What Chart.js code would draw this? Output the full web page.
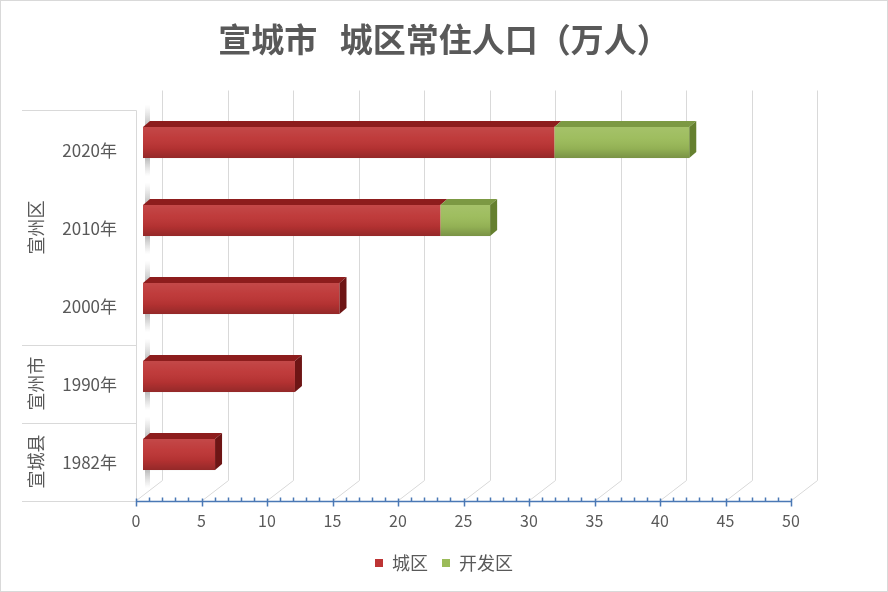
<!DOCTYPE html>
<html>
<head>
    <title>宣城市 城区常住人口</title>
    <meta charset="UTF-8">
    <script src="https://cdn.jsdelivr.net/npm/chart.js@4.4.1/dist/chart.umd.min.js"></script>
    <style>
        body { margin: 0; background: #fff; }
        .wrap { width: 888px; height: 592px; }
    </style>
</head>
<body>
    <div class="wrap"><canvas id="chart" width="888" height="592"></canvas></div>

    <script>
        // data (万人)
        const years = ['2020年', '2010年', '2000年', '1990年', '1982年'];
        const groups = ['宣州区', '宣州市', '宣城县'];
        const groupSpans = [3, 1, 1];          // how many years sit under each group
        const urban = [31.4, 22.7, 15.0, 11.6, 5.5];
        const devZone = [10.3, 3.8, 0, 0, 0];

        const FONT = '"Noto Sans CJK SC", "Noto Sans", sans-serif';
        const TEXT = '#595959';
        const GRID = '#d9d9d9';
        // fake 3D: offsets of the front plane / back wall from the bar plane
        const FRONT = { dx: -7, dy: 7 };
        const BACK = { dx: 19, dy: -13 };
        const DEPTH = { dx: 7, dy: 6 };

        const faces = [
            { top: '#8d1d1d', side: '#6e1515' },
            { top: '#7c9943', side: '#65802f' }
        ];

        const depthPlugin = {
            id: 'depth',
            beforeDatasetsDraw(chart) {
                const { ctx, chartArea: a, scales: { x, y } } = chart;
                ctx.save();

                // back wall gridlines + floor diagonals
                ctx.strokeStyle = GRID;
                ctx.lineWidth = 1;
                x.ticks.forEach(t => {
                    const px = Math.round(x.getPixelForValue(t.value)) + 0.5;
                    ctx.beginPath();
                    ctx.moveTo(px + BACK.dx, a.top + BACK.dy);
                    ctx.lineTo(px + BACK.dx, a.bottom + BACK.dy);
                    ctx.lineTo(px + FRONT.dx, a.bottom + FRONT.dy);
                    ctx.stroke();
                });

                // category label boxes
                const left = 22;
                const right = Math.round(a.left + FRONT.dx) + 0.5;
                const top = a.top + FRONT.dy;
                const bottom = a.bottom + FRONT.dy;
                ctx.beginPath();
                ctx.moveTo(right, top);
                ctx.lineTo(right, bottom);
                ctx.moveTo(left, top);
                ctx.lineTo(right, top);
                let idx = 0;
                const step = y.getPixelForValue(1) - y.getPixelForValue(0);
                groupSpans.forEach((span, g) => {
                    const first = y.getPixelForValue(idx);
                    const last = y.getPixelForValue(idx + span - 1);
                    const edge = Math.round(last + step / 2 + FRONT.dy) + 0.5;
                    ctx.moveTo(left, edge);
                    ctx.lineTo(right, edge);

                    ctx.save();
                    ctx.fillStyle = TEXT;
                    ctx.font = '18px ' + FONT;
                    ctx.textAlign = 'center';
                    ctx.textBaseline = 'middle';
                    ctx.translate(36, (first + last) / 2 + FRONT.dy);
                    ctx.rotate(-Math.PI / 2);
                    ctx.fillText(groups[g], 0, 0);
                    ctx.restore();
                    idx += span;
                });
                ctx.stroke();

                // grey smudge on the left wall above/below each bar
                chart.getDatasetMeta(0).data.forEach(bar => {
                    const p = bar.getProps(['y', 'base', 'height'], true);
                    const l = p.base, t = p.y - p.height / 2, b = p.y + p.height / 2;
                    let g = ctx.createLinearGradient(0, t - DEPTH.dy - 16, 0, t);
                    g.addColorStop(0, 'rgba(190,190,190,0)');
                    g.addColorStop(1, 'rgba(170,170,170,0.8)');
                    ctx.fillStyle = g;
                    ctx.fillRect(l + 2, t - DEPTH.dy - 16, 5, 16 + DEPTH.dy);
                    g = ctx.createLinearGradient(0, b, 0, b + 18);
                    g.addColorStop(0, 'rgba(170,170,170,0.8)');
                    g.addColorStop(1, 'rgba(190,190,190,0)');
                    ctx.fillStyle = g;
                    ctx.fillRect(l + 2, b, 5, 18);
                });

                // front value axis with major and minor ticks
                const ay = Math.round(a.bottom + FRONT.dy) + 0.5;
                ctx.strokeStyle = '#4a78b5';
                ctx.lineWidth = 1.5;
                ctx.beginPath();
                ctx.moveTo(x.getPixelForValue(x.min) + FRONT.dx, ay);
                ctx.lineTo(x.getPixelForValue(x.max) + FRONT.dx, ay);
                for (let v = x.min; v <= x.max; v++) {
                    const px = Math.round(x.getPixelForValue(v) + FRONT.dx) + 0.5;
                    if (v % 5 === 0) {
                        ctx.moveTo(px, ay - 3);
                        ctx.lineTo(px, ay + 5);
                    } else {
                        ctx.moveTo(px, ay - 4);
                        ctx.lineTo(px, ay);
                    }
                }
                ctx.stroke();
                ctx.restore();
            },
            afterDatasetsDraw(chart) {
                const { ctx } = chart;
                const sets = chart.data.datasets;
                ctx.save();
                sets.forEach((ds, d) => {
                    chart.getDatasetMeta(d).data.forEach((bar, j) => {
                        if (!ds.data[j]) return;
                        const p = bar.getProps(['x', 'y', 'base', 'height'], true);
                        const l = Math.min(p.base, p.x), r = Math.max(p.base, p.x);
                        const t = p.y - p.height / 2, b = p.y + p.height / 2;

                        // shading on the front face
                        const g = ctx.createLinearGradient(0, t, 0, b);
                        g.addColorStop(0, 'rgba(255,255,255,0.10)');
                        g.addColorStop(0.35, 'rgba(255,255,255,0.04)');
                        g.addColorStop(0.7, 'rgba(0,0,0,0.06)');
                        g.addColorStop(1, 'rgba(0,0,0,0.22)');
                        ctx.fillStyle = g;
                        ctx.fillRect(l, t, r - l, b - t);

                        // top face
                        ctx.fillStyle = faces[d].top;
                        ctx.beginPath();
                        ctx.moveTo(l, t);
                        ctx.lineTo(l + DEPTH.dx, t - DEPTH.dy);
                        ctx.lineTo(r + DEPTH.dx, t - DEPTH.dy);
                        ctx.lineTo(r, t);
                        ctx.closePath();
                        ctx.fill();

                        // right face only on the outermost segment
                        const outer = sets.slice(d + 1).every(s => !s.data[j]);
                        if (outer) {
                            ctx.fillStyle = faces[d].side;
                            ctx.beginPath();
                            ctx.moveTo(r, t);
                            ctx.lineTo(r + DEPTH.dx, t - DEPTH.dy);
                            ctx.lineTo(r + DEPTH.dx, b - DEPTH.dy);
                            ctx.lineTo(r, b);
                            ctx.closePath();
                            ctx.fill();
                        }
                    });
                });
                ctx.restore();
            },
            afterDraw(chart) {
                const { ctx, width, height } = chart;
                ctx.save();
                ctx.strokeStyle = GRID;
                ctx.lineWidth = 1;
                ctx.strokeRect(0.5, 0.5, width - 1, height - 1);
                ctx.restore();
            }
        };

        const ctx = document.getElementById('chart').getContext('2d');
        new Chart(ctx, {
            type: 'bar',
            data: {
                labels: years,
                datasets: [
                    { label: '城区', data: urban, backgroundColor: '#bd3434', borderWidth: 0 },
                    { label: '开发区', data: devZone, backgroundColor: '#9bbb59', borderWidth: 0 }
                ]
            },
            options: {
                responsive: false,
                animation: false,
                indexAxis: 'y',
                datasets: { bar: { categoryPercentage: 1, barPercentage: 0.4 } },
                layout: { padding: { left: 0, right: 0, top: 0, bottom: 10 } },
                scales: {
                    x: {
                        stacked: true,
                        min: 0,
                        max: 50,
                        grid: { display: false, drawTicks: false },
                        border: { display: false },
                        ticks: { stepSize: 5, color: TEXT, font: { size: 16, family: FONT }, padding: 18, labelOffset: FRONT.dx },
                        afterFit: s => { s.height = 592 - 10 - s.chart.legend.height - 493.5; }
                    },
                    y: {
                        stacked: true,
                        grid: { display: false, drawTicks: false },
                        border: { display: false },
                        ticks: { color: TEXT, font: { size: 17, family: FONT }, padding: 26, labelOffset: 8 },
                        afterFit: s => { s.width = 143; }
                    },
                    // empty strip on the right, keeps the plot narrow but title/legend centred on the page
                    yRight: {
                        type: 'category',
                        position: 'right',
                        grid: { display: false, drawTicks: false },
                        border: { display: false },
                        ticks: { display: false },
                        afterFit: s => { s.width = 90; }
                    }
                },
                plugins: {
                    title: {
                        display: true,
                        text: '宣城市   城区常住人口（万人）',
                        color: TEXT,
                        font: { size: 33, weight: 'bold', family: FONT },
                        padding: { top: 20, bottom: 43.9 }
                    },
                    legend: {
                        position: 'bottom',
                        labels: { boxWidth: 8, boxHeight: 8, color: TEXT, font: { size: 18, family: FONT }, padding: 14 }
                    },
                    tooltip: { enabled: false }
                }
            },
            plugins: [depthPlugin]
        });
    </script>
</body>
</html>
